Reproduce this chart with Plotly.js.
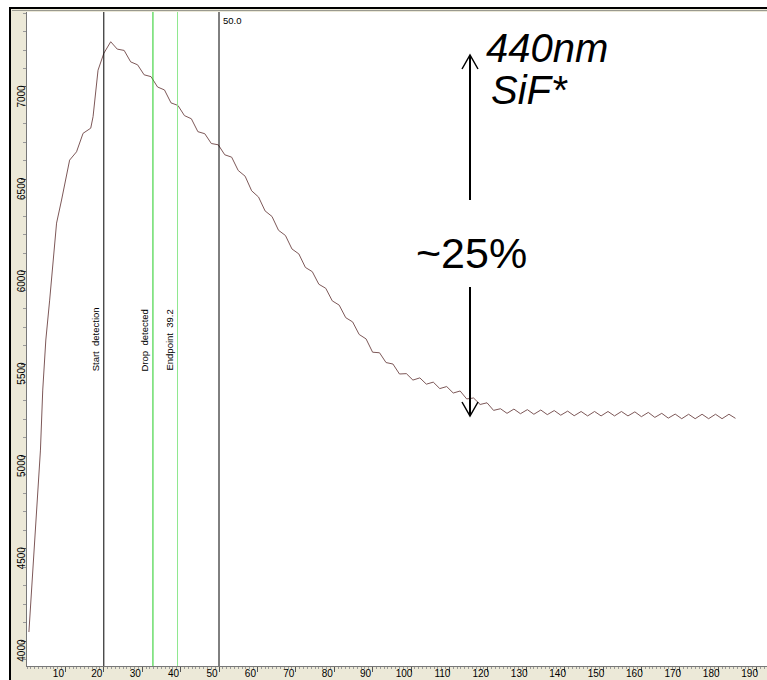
<!DOCTYPE html>
<html>
<head>
<meta charset="utf-8">
<script src="https://cdn.plot.ly/plotly-3.0.1.min.js"></script>
<style>
  html, body { margin: 0; padding: 0; background: #ffffff; }
  #chart { width: 767px; height: 680px; }
</style>
</head>
<body>
<div id="chart"></div>
<script>
// ---- data ----
const timeX = [
  0.5, 2, 3.5, 4.1, 4.9, 5.9, 7.7, 9, 11.1, 12.9, 14.6, 16.6, 17.2, 18.5, 20,
  21.8, 23.5, 25.3, 27, 28.8, 30.5, 32.3, 34, 35.8, 37.5, 39.3, 41, 42.8, 44.5,
  46.3, 48, 49.8, 51.5, 53.3, 55, 56.8, 58.5, 60.3, 62, 63.8, 65.5, 67.3, 69,
  70.8, 72.5, 74.3, 76, 77.8, 79.5, 81.3, 83, 84.8, 86.5, 88.3, 90, 91.8, 93.5,
  95.3, 97, 98.8, 100.5, 102.3, 104, 105.8, 107.5, 109.3, 111, 112.8, 114.5,
  116.3, 118, 119.8, 121.5, 123.3, 125, 126.8, 128.5, 130.3, 132, 133.8, 135.5,
  137.3, 139, 140.8, 142.5, 144.3, 146, 147.8, 149.5, 151.3, 153, 154.8, 156.5,
  158.3, 160, 161.8, 163.5, 165.3, 167, 168.8, 170.5, 172.3, 174, 175.8, 177.5,
  179.3, 181, 182.8, 184.5
];
const signalY = [
  4049, 4547, 5034, 5359, 5630, 5846, 6263, 6388, 6604, 6649, 6749, 6777, 6839, 7091, 7182,
  7245, 7205, 7198, 7136, 7120, 7066, 7056, 7000, 6984, 6914, 6900, 6845, 6828, 6758,
  6747, 6694, 6687, 6633, 6620, 6548, 6517, 6438, 6404, 6329, 6299, 6224, 6196, 6123,
  6096, 6023, 6000, 5932, 5910, 5842, 5819, 5751, 5728, 5660, 5636, 5564, 5561, 5508,
  5500, 5446, 5448, 5413, 5425, 5391, 5402, 5367, 5378, 5343, 5354, 5311,
  5316, 5281, 5290, 5249, 5258, 5233, 5256, 5231, 5253, 5228, 5251, 5226,
  5248, 5223, 5245, 5220, 5243, 5219, 5243, 5219, 5243, 5219, 5243, 5219,
  5241, 5215, 5238, 5211, 5233, 5207, 5229, 5204, 5228, 5204, 5228, 5204,
  5228, 5204, 5228, 5206
];
const xTickVals = [10, 20, 30, 40, 50, 60, 70, 80, 90, 100, 110, 120, 130, 140, 150, 160, 170, 180, 190];
const yTickVals = [4000, 4500, 5000, 5500, 6000, 6500, 7000];
const markerX = [20, 32.8, 39.2, 50];
const markerLabels = ['Start  detection', 'Drop  detected', 'Endpoint  39.2', '50.0'];
const noteTexts = ['<i>440nm</i>', '<i>SiF*</i>', '~25%'];

// ---- styling ----
const markerColors = ['#000000', '#22cc22', '#8fe88f', '#000000'];
const W = 767, H = 680, L = 27, R = 0, T = 12, B = 14;
const plotW = W - L - R, plotH = H - T - B;
const px2x = p => (p - L) / plotW;
const py2y = p => (H - B - p) / plotH;

const trace = {
  x: timeX, y: signalY, type: 'scatter', mode: 'lines',
  line: { color: '#7d5858', width: 1 }, hoverinfo: 'skip'
};

const shapes = [];
// window frame decorations
shapes.push({ type: 'rect', xref: 'paper', yref: 'paper', x0: px2x(0), x1: px2x(9), y0: py2y(680), y1: py2y(0), fillcolor: '#ffffff', line: { width: 0 } });
shapes.push({ type: 'rect', xref: 'paper', yref: 'paper', x0: px2x(0), x1: px2x(767), y0: py2y(7), y1: py2y(0), fillcolor: '#ffffff', line: { width: 0 } });
shapes.push({ type: 'line', xref: 'paper', yref: 'paper', x0: px2x(9), x1: px2x(767), y0: py2y(8), y1: py2y(8), line: { color: '#000', width: 2 } });
shapes.push({ type: 'line', xref: 'paper', yref: 'paper', x0: px2x(10), x1: px2x(10), y0: py2y(8), y1: py2y(680), line: { color: '#000', width: 2 } });
shapes.push({ type: 'line', xref: 'paper', yref: 'paper', x0: px2x(12), x1: px2x(767), y0: py2y(10.5), y1: py2y(10.5), line: { color: '#9a9a90', width: 1 } });
// marker lines
markerX.forEach((v, i) => {
  shapes.push({ type: 'line', xref: 'x', yref: 'paper', x0: v, x1: v, y0: 0, y1: 1, line: { color: markerColors[i], width: 1 } });
});
// arrows
const ax = 470;
shapes.push({ type: 'line', xref: 'paper', yref: 'paper', x0: px2x(ax), x1: px2x(ax), y0: py2y(56), y1: py2y(200), line: { color: '#000', width: 2 } });
shapes.push({ type: 'path', xref: 'paper', yref: 'paper', path: `M ${px2x(ax-8)} ${py2y(69)} L ${px2x(ax)} ${py2y(55)} L ${px2x(ax+8)} ${py2y(69)}`, line: { color: '#000', width: 1.5 } });
shapes.push({ type: 'line', xref: 'paper', yref: 'paper', x0: px2x(ax), x1: px2x(ax), y0: py2y(287), y1: py2y(415), line: { color: '#000', width: 2 } });
shapes.push({ type: 'path', xref: 'paper', yref: 'paper', path: `M ${px2x(ax-8)} ${py2y(402)} L ${px2x(ax)} ${py2y(416)} L ${px2x(ax+8)} ${py2y(402)}`, line: { color: '#000', width: 1.5 } });

const lblFont = { family: 'Liberation Sans, Arial, sans-serif', size: 9.5, color: '#000' };
const annotations = [];
for (let i = 0; i < 3; i++) {
  annotations.push({ x: markerX[i], xref: 'x', y: py2y(373), yref: 'paper', text: markerLabels[i], showarrow: false,
    textangle: -90, xanchor: 'right', yanchor: 'bottom', xshift: -1, font: lblFont });
}
annotations.push({ x: markerX[3], xref: 'x', y: py2y(13), yref: 'paper', text: markerLabels[3], showarrow: false,
  xanchor: 'left', yanchor: 'top', xshift: 2, font: lblFont });
const bigFont = { family: 'Liberation Sans, Arial, sans-serif', size: 40, color: '#000' };
annotations.push({ x: px2x(484), y: py2y(48), xref: 'paper', yref: 'paper', text: noteTexts[0], showarrow: false, xanchor: 'left', yanchor: 'middle', font: bigFont });
annotations.push({ x: px2x(489), y: py2y(90), xref: 'paper', yref: 'paper', text: noteTexts[1], showarrow: false, xanchor: 'left', yanchor: 'middle', font: bigFont });
annotations.push({ x: px2x(471), y: py2y(253), xref: 'paper', yref: 'paper', text: noteTexts[2], showarrow: false, xanchor: 'center', yanchor: 'middle', font: { family: 'Liberation Sans, Arial, sans-serif', size: 43, color: '#000' } });

const tickFont = { family: 'Liberation Sans, Arial, sans-serif', size: 10, color: '#000' };
const layout = {
  width: W, height: H,
  margin: { l: L, r: R, t: T, b: B, pad: 0 },
  paper_bgcolor: '#ece9d8', plot_bgcolor: '#ffffff',
  showlegend: false,
  xaxis: {
    range: [0, plotW / 3.84], tickmode: 'array', tickvals: xTickVals, ticktext: xTickVals.map(String),
    ticks: 'outside', ticklen: 5, tickcolor: '#555', tickwidth: 1,
    minor: { ticks: 'outside', dtick: 1, tick0: 0, ticklen: 2, tickcolor: '#999', tickmode: 'linear' },
    showgrid: false, zeroline: false, showline: true, linecolor: '#777', linewidth: 1,
    tickfont: tickFont, ticklabelshift: -7, ticklabelstandoff: -7, fixedrange: true
  },
  yaxis: {
    range: [3865, 7406], tickmode: 'array', tickvals: yTickVals, ticktext: yTickVals.map(String),
    ticks: 'outside', ticklen: 5, tickcolor: '#555', tickwidth: 1,
    minor: { ticks: 'outside', dtick: 100, tick0: 0, ticklen: 3, tickcolor: '#999', tickmode: 'linear' },
    showgrid: false, zeroline: false, showline: true, linecolor: '#777', linewidth: 1,
    tickangle: -90, tickfont: tickFont, ticklabelshift: 11, ticklabelstandoff: -8, fixedrange: true
  },
  shapes: shapes,
  annotations: annotations
};

Plotly.newPlot('chart', [trace], layout, { staticPlot: true, displayModeBar: false });
</script>
</body>
</html>
